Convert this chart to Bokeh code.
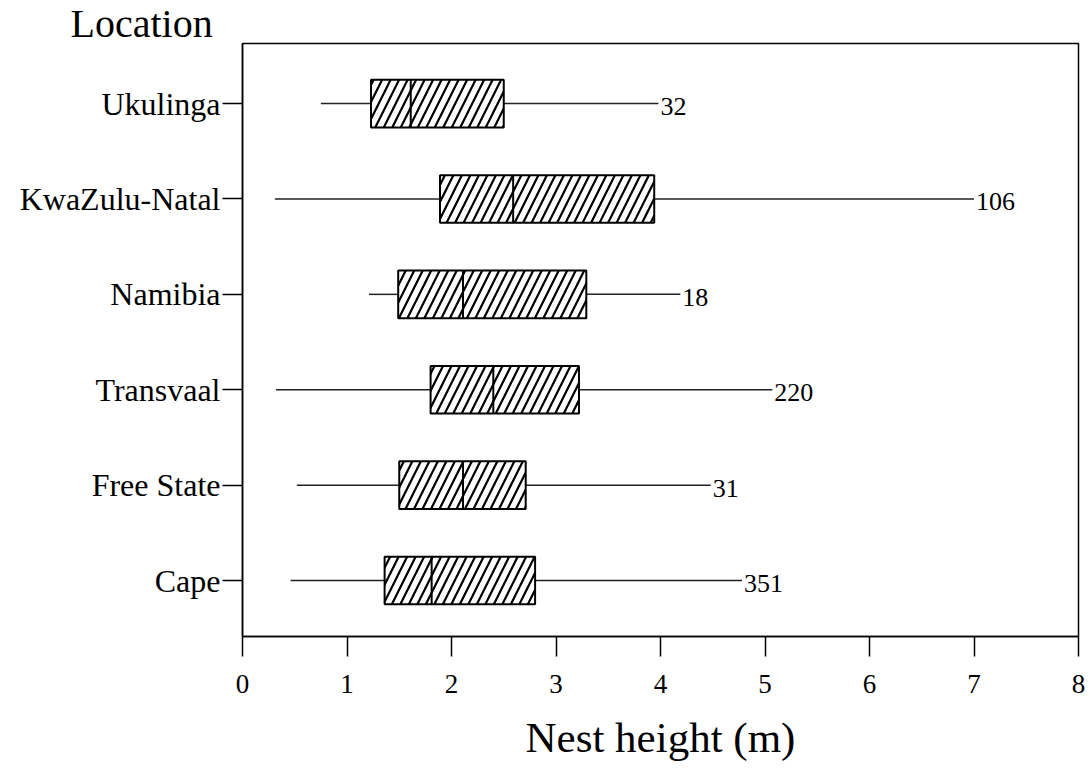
from bokeh.plotting import figure
from bokeh.models import ColumnDataSource, FixedTicker, Range1d, Title
from bokeh.core.properties import value
from bokeh.embed import file_html
from bokeh.resources import INLINE

# Nest height summaries per location (bottom to top)
locations = ["Cape", "Free State", "Transvaal", "Namibia", "KwaZulu-Natal", "Ukulinga"]
whisker_low = [0.46, 0.52, 0.32, 1.21, 0.31, 0.75]
q1 = [1.36, 1.50, 1.80, 1.49, 1.89, 1.23]
median = [1.81, 2.11, 2.40, 2.11, 2.59, 1.61]
q3 = [2.80, 2.71, 3.22, 3.29, 3.94, 2.50]
whisker_high = [4.78, 4.48, 5.07, 4.19, 7.00, 3.98]
sample_size = [351, 31, 220, 18, 106, 32]
x_ticks = [0, 1, 2, 3, 4, 5, 6, 7, 8]

FONT = "Liberation Serif"
BOX_H = 0.5

pos = list(range(1, len(locations) + 1))
src = ColumnDataSource(dict(
    pos=pos,
    lo=whisker_low, q1=q1, med=median, q3=q3, hi=whisker_high,
    box_bottom=[y - BOX_H / 2 for y in pos],
    box_top=[y + BOX_H / 2 for y in pos],
    n=[str(v) for v in sample_size],
))

p = figure(width=1090, height=775, output_backend="svg", toolbar_location=None,
           x_range=Range1d(0, 8), y_range=Range1d(0.413, 6.63),
           min_border_left=242, min_border_right=12,
           min_border_top=0, min_border_bottom=139)
p.background_fill_color = "white"
p.border_fill_color = "white"
p.outline_line_color = "black"
p.outline_line_width = 1.5
p.xgrid.visible = False
p.ygrid.visible = False

# whiskers
p.segment(x0="lo", y0="pos", x1="q1", y1="pos", source=src, line_color="#222222", line_width=1.5)
p.segment(x0="q3", y0="pos", x1="hi", y1="pos", source=src, line_color="#222222", line_width=1.5)

# hatched boxes
p.hbar(y="pos", height=BOX_H, left="q1", right="q3", source=src,
       fill_color="white", line_color="black", line_width=2,
       hatch_pattern="/", hatch_color="black", hatch_scale=17, hatch_weight=2.2)

# medians
p.segment(x0="med", y0="box_bottom", x1="med", y1="box_top", source=src,
          line_color="black", line_width=2)

# sample sizes
p.text(x="hi", y="pos", text="n", source=src, x_offset=2, y_offset=3,
       text_font=value(FONT), text_font_size="26px", text_color="black",
       text_baseline="middle", text_align="left")

# x axis
xa = p.xaxis[0]
xa.ticker = FixedTicker(ticks=x_ticks)
xa.minor_tick_line_color = None
xa.major_tick_in = 0
xa.major_tick_out = 20
xa.major_tick_line_width = 1.5
xa.major_tick_line_color = "black"
xa.axis_line_width = 1.5
xa.axis_line_color = "black"
xa.major_label_standoff = 18
xa.major_label_text_font = FONT
xa.major_label_text_font_size = "27px"
xa.major_label_text_color = "black"
xa.axis_label = "Nest height (m)"
xa.axis_label_text_font = FONT
xa.axis_label_text_font_size = "43px"
xa.axis_label_text_font_style = "normal"
xa.axis_label_text_color = "black"
xa.axis_label_standoff = 18

# y axis
ya = p.yaxis[0]
ya.ticker = FixedTicker(ticks=pos)
ya.major_label_overrides = {y: name for y, name in zip(pos, locations)}
ya.minor_tick_line_color = None
ya.major_tick_in = 0
ya.major_tick_out = 20
ya.major_tick_line_width = 1.5
ya.major_tick_line_color = "black"
ya.axis_line_width = 1.5
ya.axis_line_color = "black"
ya.major_label_standoff = 2
ya.major_label_text_font = FONT
ya.major_label_text_font_size = "32px"
ya.major_label_text_color = "black"

# axis heading above the category labels
p.add_layout(Title(text="Location", align="left", offset=-172, standoff=-4,
                   text_font=FONT, text_font_size="40px", text_font_style="normal",
                   text_color="black"), "above")

open("out.html", "w").write(file_html(p, INLINE))
